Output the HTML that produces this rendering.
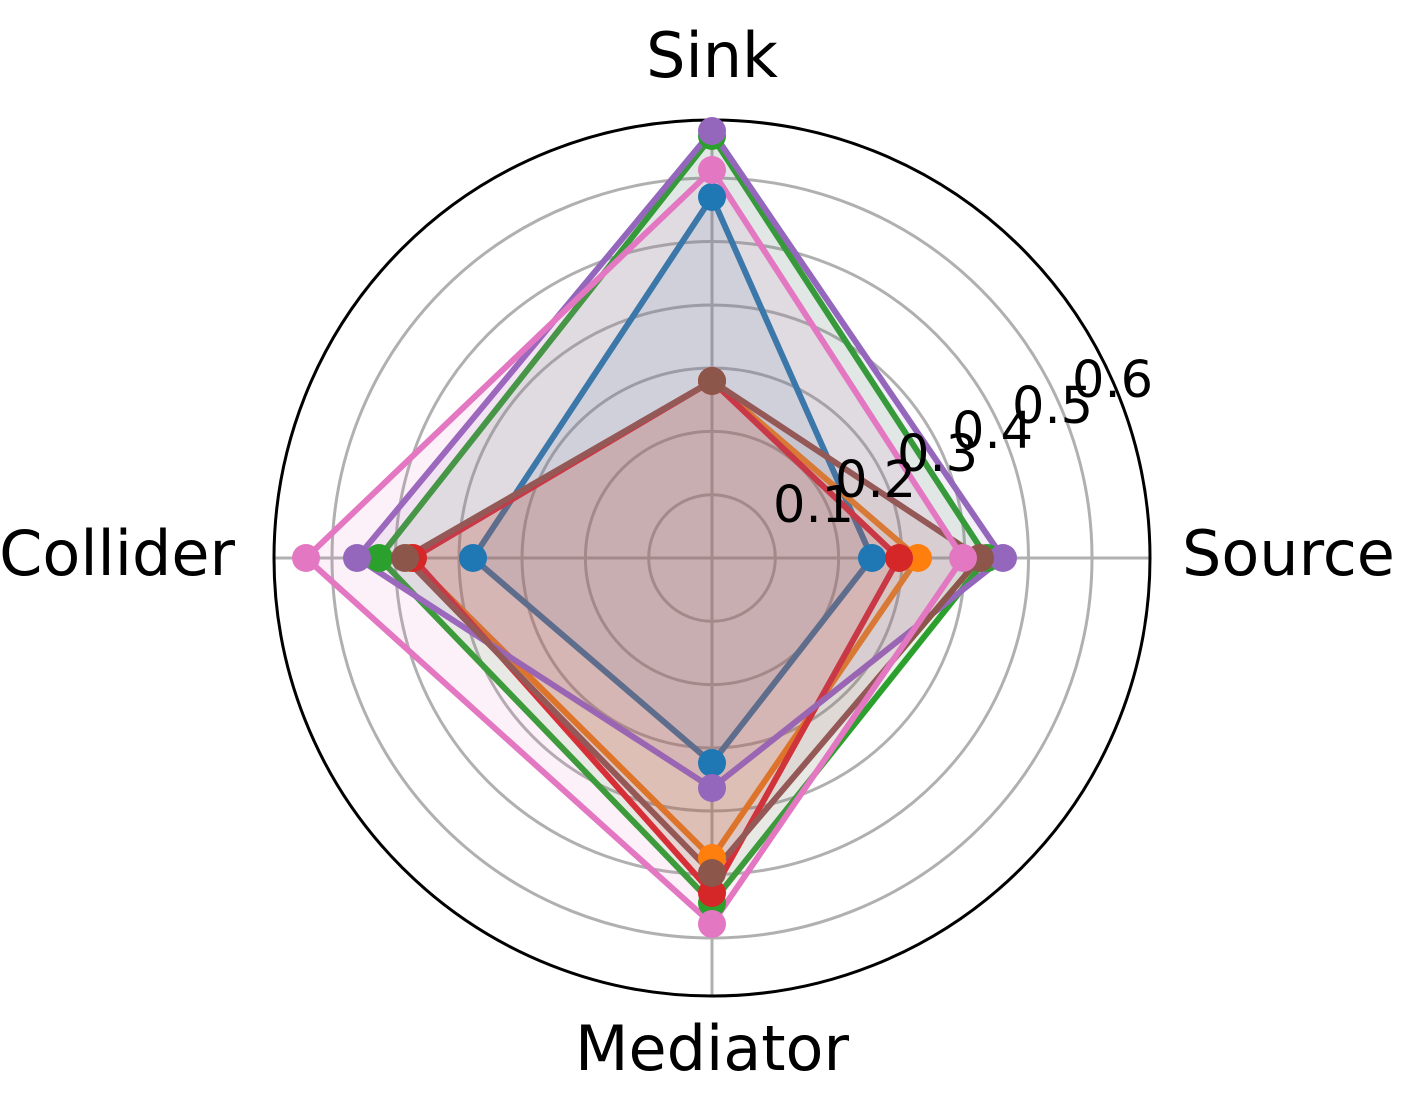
<!DOCTYPE html>
<html><head><meta charset="utf-8"><style>
html,body{margin:0;padding:0;background:#fff;}
svg{display:block;}
text{font-family:"DejaVu Sans","Liberation Sans",sans-serif;fill:#000;}
</style></head><body>
<svg width="1425" height="1114" viewBox="0 0 1425 1114" xmlns="http://www.w3.org/2000/svg">
<g fill="none" stroke="#b0b0b0" stroke-width="3">
<circle cx="712" cy="558" r="63.3"/>
<circle cx="712" cy="558" r="126.6"/>
<circle cx="712" cy="558" r="190"/>
<circle cx="712" cy="558" r="253"/>
<circle cx="712" cy="558" r="316.5"/>
<circle cx="712" cy="558" r="380"/>
<line x1="712" y1="120" x2="712" y2="996"/>
<line x1="274" y1="558" x2="1150" y2="558"/>
</g>
<circle cx="712" cy="558" r="438" fill="none" stroke="#000" stroke-width="3"/>
<g stroke-width="6" stroke-linejoin="miter">
<polygon points="712,197 872,558 712,763 473,558" fill="#1f77b4" fill-opacity="0.1" stroke="#1f77b4"/>
<polygon points="712,381 918,558 712,858 410,558" fill="#ff7f0e" fill-opacity="0.1" stroke="#ff7f0e"/>
<polygon points="712,136 987,558 712,903 379,558" fill="#2ca02c" fill-opacity="0.1" stroke="#2ca02c"/>
<polygon points="712,381 899,558 712,893 413,558" fill="#d62728" fill-opacity="0.1" stroke="#d62728"/>
<polygon points="712,131 1003,558 712,788 357,558" fill="#9467bd" fill-opacity="0.1" stroke="#9467bd"/>
<polygon points="712,381 980,558 712,873 405,558" fill="#8c564b" fill-opacity="0.1" stroke="#8c564b"/>
<polygon points="712,170 963,558 712,924 306,558" fill="#e377c2" fill-opacity="0.1" stroke="#e377c2"/>
</g>
<g>
<g fill="#1f77b4"><circle cx="712" cy="197" r="14"/><circle cx="872" cy="558" r="14"/><circle cx="712" cy="763" r="14"/><circle cx="473" cy="558" r="14"/></g>
<g fill="#ff7f0e"><circle cx="712" cy="381" r="14"/><circle cx="918" cy="558" r="14"/><circle cx="712" cy="858" r="14"/><circle cx="410" cy="558" r="14"/></g>
<g fill="#2ca02c"><circle cx="712" cy="136" r="14"/><circle cx="987" cy="558" r="14"/><circle cx="712" cy="903" r="14"/><circle cx="379" cy="558" r="14"/></g>
<g fill="#d62728"><circle cx="712" cy="381" r="14"/><circle cx="899" cy="558" r="14"/><circle cx="712" cy="893" r="14"/><circle cx="413" cy="558" r="14"/></g>
<g fill="#9467bd"><circle cx="712" cy="131" r="14"/><circle cx="1003" cy="558" r="14"/><circle cx="712" cy="788" r="14"/><circle cx="357" cy="558" r="14"/></g>
<g fill="#8c564b"><circle cx="712" cy="381" r="14"/><circle cx="980" cy="558" r="14"/><circle cx="712" cy="873" r="14"/><circle cx="405" cy="558" r="14"/></g>
<g fill="#e377c2"><circle cx="712" cy="170" r="14"/><circle cx="963" cy="558" r="14"/><circle cx="712" cy="924" r="14"/><circle cx="306" cy="558" r="14"/></g>
</g>
<g font-size="51">
<text x="773" y="522">0.1</text>
<text x="835" y="497">0.2</text>
<text x="897" y="471">0.3</text>
<text x="952" y="448">0.4</text>
<text x="1012" y="423">0.5</text>
<text x="1072" y="397">0.6</text>
</g>
<g font-size="62">
<text x="712" y="77" text-anchor="middle">Sink</text>
<text x="1182" y="575">Source</text>
<text x="235" y="575" text-anchor="end">Collider</text>
<text x="712" y="1070" text-anchor="middle">Mediator</text>
</g>
</svg>
</body></html>
